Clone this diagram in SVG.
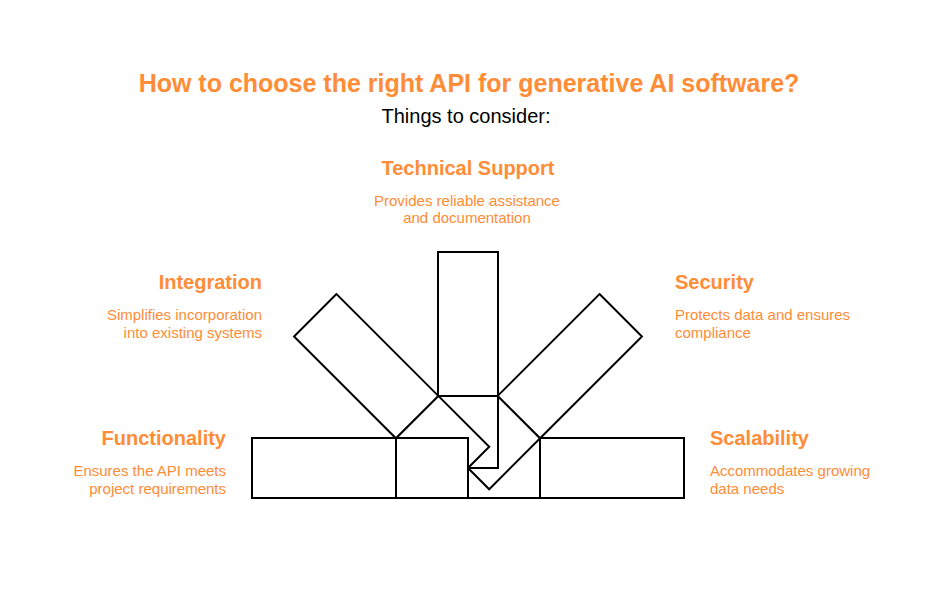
<svg xmlns="http://www.w3.org/2000/svg" width="948" height="613" viewBox="0 0 948 613">
<style>
.bg{fill:#ffffff}
.bar{fill:#ffffff;stroke:#000000;stroke-width:2;stroke-linejoin:miter}
.title{font-family:"Liberation Sans",Arial,sans-serif;font-weight:bold;font-size:25px;fill:#FF8C36}
.sub{font-family:"Liberation Sans",Arial,sans-serif;font-size:20px;fill:#000000}
.head{font-family:"Liberation Sans",Arial,sans-serif;font-weight:bold;font-size:20px;fill:#FF8C36}
.desc{font-family:"Liberation Sans",Arial,sans-serif;font-size:15px;fill:#FF8C36}
</style>
<rect class="bg" x="0" y="0" width="948" height="613"/>
<g id="header">
<text class="title" x="469" y="92" text-anchor="middle">How to choose the right API for generative AI software?</text>
<text class="sub" x="466" y="123" text-anchor="middle">Things to consider:</text>
</g>
<g id="connectors"/>
<g id="scalability">
<rect class="bar" x="468" y="438" width="72" height="60"/>
<rect class="bar" x="540" y="438" width="144" height="60"/>
<text class="head" x="710" y="445">Scalability</text>
<text class="desc" x="710" y="476">Accommodates growing</text>
<text class="desc" x="710" y="494">data needs</text>
</g>
<g id="security">
<polygon class="bar" points="497.699,395.875 540.125,438.301 489.213,489.213 446.787,446.787"/>
<polygon class="bar" points="599.522,294.052 641.948,336.478 540.125,438.301 497.699,395.875"/>
<text class="head" x="675" y="289">Security</text>
<text class="desc" x="675" y="320">Protects data and ensures</text>
<text class="desc" x="675" y="338">compliance</text>
</g>
<g id="technical-support">
<rect class="bar" x="438" y="396" width="60" height="72"/>
<rect class="bar" x="438" y="252" width="60" height="144"/>
<text class="head" x="468" y="175" text-anchor="middle">Technical Support</text>
<text class="desc" x="467" y="206" text-anchor="middle">Provides reliable assistance</text>
<text class="desc" x="467" y="223" text-anchor="middle">and documentation</text>
</g>
<g id="integration">
<polygon class="bar" points="438.301,395.875 489.213,446.787 446.787,489.213 395.875,438.301"/>
<polygon class="bar" points="336.478,294.052 294.052,336.478 395.875,438.301 438.301,395.875"/>
<text class="head" x="262" y="289" text-anchor="end">Integration</text>
<text class="desc" x="262" y="320" text-anchor="end">Simplifies incorporation</text>
<text class="desc" x="262" y="338" text-anchor="end">into existing systems</text>
</g>
<g id="functionality">
<rect class="bar" x="396" y="438" width="72" height="60"/>
<rect class="bar" x="252" y="438" width="144" height="60"/>
<text class="head" x="226" y="445" text-anchor="end">Functionality</text>
<text class="desc" x="226" y="476" text-anchor="end">Ensures the API meets</text>
<text class="desc" x="226" y="494" text-anchor="end">project requirements</text>
</g>
</svg>
